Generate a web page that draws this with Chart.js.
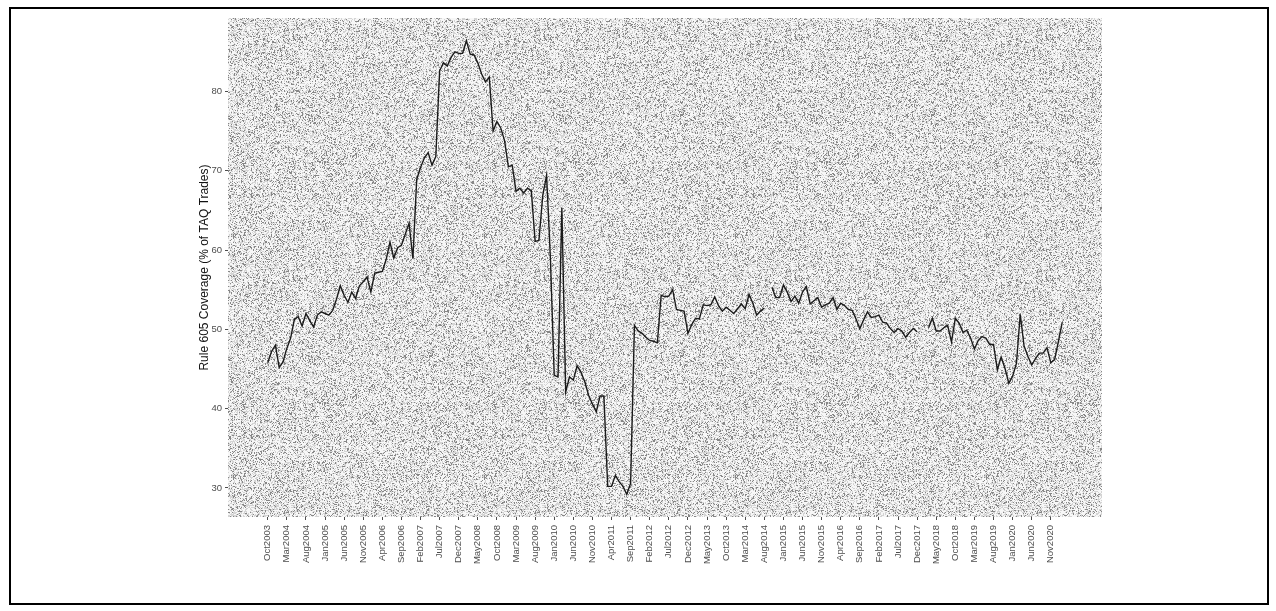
<!DOCTYPE html>
<html>
<head>
<meta charset="utf-8">
<script src="https://cdn.jsdelivr.net/npm/chart.js@4"></script>
<style>
    body { margin: 0; background: #fff; }
    #frame {
        position: absolute; left: 9px; top: 7px; width: 1260px; height: 598px;
        border: 2px solid #000; box-sizing: border-box;
    }
    #chart { position: absolute; left: 0; top: 0; }
</style>
</head>
<body>
<div id="frame"></div>
<canvas id="chart" width="1276" height="611"></canvas>
<script>
// tick labels shown on the x axis (one every 5 months, starting Oct2003)
const tickLabels = ['Oct2003','Mar2004','Aug2004','Jan2005','Jun2005','Nov2005','Apr2006','Sep2006',
    'Feb2007','Jul2007','Dec2007','May2008','Oct2008','Mar2009','Aug2009','Jan2010','Jun2010',
    'Nov2010','Apr2011','Sep2011','Feb2012','Jul2012','Dec2012','May2013','Oct2013','Mar2014',
    'Aug2014','Jan2015','Jun2015','Nov2015','Apr2016','Sep2016','Feb2017','Jul2017','Dec2017',
    'May2018','Oct2018','Mar2019','Aug2019','Jan2020','Jun2020','Nov2020'];

// y axis ticks
const yTicks = [30, 40, 50, 60, 70, 80];

// monthly coverage, first value = Oct2003 (null = missing month)
const coverage = [
    45.8, 47.2, 48.0, 45.2, 45.9, 47.6, 48.9, 51.3, 51.6, 50.4, 52.0, 51.1,
    50.3, 51.8, 52.2, 52.0, 51.8, 52.4, 53.8, 55.5, 54.3, 53.4, 54.7, 53.9,
    55.5, 56.0, 56.6, 54.7, 57.1, 57.2, 57.3, 58.8, 61.0, 59.0, 60.3, 60.6,
    62.0, 63.4, 58.9, 68.9, 70.4, 71.6, 72.3, 70.7, 71.8, 82.6, 83.6, 83.2,
    84.3, 85.0, 84.8, 84.8, 86.4, 84.7, 84.6, 83.6, 82.2, 81.2, 81.8, 75.0,
    76.2, 75.4, 73.8, 70.5, 70.7, 67.4, 67.8, 67.2, 67.8, 67.5, 61.1, 61.2,
    66.9, 69.4, 59.0, 44.2, 44.0, 65.3, 42.1, 44.0, 43.6, 45.4, 44.6, 43.4,
    41.7, 40.6, 39.6, 41.6, 41.6, 30.2, 30.2, 31.6, 30.8, 30.2, 29.2, 30.6,
    50.5, 49.8, 49.5, 49.0, 48.6, 48.5, 48.3, 54.3, 54.1, 54.2, 55.0, 52.5,
    52.4, 52.3, 49.5, 50.6, 51.4, 51.3, 53.1, 53.0, 53.1, 54.1, 53.0, 52.3,
    52.8, 52.4, 52.0, 52.6, 53.2, 52.6, 54.4, 53.3, 51.8, 52.3, 52.7, null,
    55.3, 54.0, 54.0, 55.6, 54.7, 53.5, 54.2, 53.3, 54.7, 55.4, 53.2, 53.6,
    54.0, 52.8, 53.1, 53.3, 54.0, 52.5, 53.3, 53.0, 52.5, 52.4, 51.3, 50.1,
    51.2, 52.2, 51.5, 51.6, 51.8, 50.9, 50.8, 50.1, 49.6, 50.1, 49.8, 49.0,
    49.6, 50.1, 49.7, null, null, 50.2, 51.4, 49.8, 49.8, 50.2, 50.5, 48.4,
    51.4, 50.8, 49.6, 49.9, 48.9, 47.5, 48.6, 49.1, 48.9, 48.1, 48.1, 44.9,
    46.5, 45.1, 43.2, 44.1, 45.7, 51.9, 47.9, 46.6, 45.5, 46.3, 47.0, 47.0,
    47.7, 45.8, 46.2, 48.5, 50.9
];

const points = coverage.map((v, i) => ({ x: i, y: v }));

// ggplot style 5% expansion of the data range
const vals = coverage.filter(v => v !== null);
const yLo = Math.min(...vals), yHi = Math.max(...vals);
const yPad = (yHi - yLo) * 0.05;
const xPad = (coverage.length - 1) * 0.05;

// grainy light grey panel like the scanned original (fixed hash, not data)
function makeGrain() {
    const W = 251, H = 241;
    const c = document.createElement('canvas');
    c.width = W; c.height = H;
    const g = c.getContext('2d');
    const img = g.createImageData(W, H);
    for (let y = 0; y < H; y++) {
        for (let x = 0; x < W; x++) {
            let n = Math.imul(x + 17, 374761393) + Math.imul(y + 91, 668265263);
            n = Math.imul(n ^ (n >>> 13), 1274126177);
            n = (n ^ (n >>> 16)) >>> 0;
            const p = n / 4294967296;
            const v = p < 0.17 ? 135 : (p < 0.5 ? 212 : 247);
            const k = (y * W + x) * 4;
            img.data[k] = img.data[k + 1] = img.data[k + 2] = v;
            img.data[k + 3] = 255;
        }
    }
    g.putImageData(img, 0, 0);
    return c;
}

const panelBg = {
    id: 'panelBg',
    beforeDraw(chart) {
        const a = chart.chartArea;
        const ctx = chart.ctx;
        ctx.save();
        ctx.fillStyle = ctx.createPattern(makeGrain(), 'repeat');
        ctx.fillRect(a.left, a.top, a.right - a.left, a.bottom - a.top);
        ctx.restore();
    }
};

const FONT = '"Liberation Sans", Arial, sans-serif';

new Chart(document.getElementById('chart').getContext('2d'), {
    type: 'line',
    data: {
        datasets: [{
            data: points,
            borderColor: '#1a1a1a',
            borderWidth: 1.4,
            pointRadius: 0,
            tension: 0,
            spanGaps: false
        }]
    },
    options: {
        responsive: false,
        animation: false,
        layout: { padding: { top: 18, right: 174, left: 197, bottom: 34 } },
        plugins: { legend: { display: false }, tooltip: { enabled: false } },
        scales: {
            x: {
                type: 'linear',
                min: -xPad,
                max: coverage.length - 1 + xPad,
                afterBuildTicks: s => { s.ticks = tickLabels.map((t, i) => ({ value: i * 5 })); },
                afterFit: s => { s.height = 60; },
                ticks: {
                    autoSkip: false, maxRotation: 90, minRotation: 90,
                    padding: 5, color: '#4d4d4d',
                    font: { family: FONT, size: 9.5 },
                    callback: v => tickLabels[v / 5]
                },
                grid: { drawOnChartArea: false, tickLength: 3, color: '#4d4d4d' },
                border: { display: false }
            },
            y: {
                min: yLo - yPad,
                max: yHi + yPad,
                afterBuildTicks: s => { s.ticks = yTicks.map(v => ({ value: v })); },
                afterFit: s => { s.width = 31; },
                ticks: { padding: 3, color: '#4d4d4d', font: { family: FONT, size: 9.5 } },
                grid: { drawOnChartArea: false, tickLength: 3, color: '#4d4d4d' },
                border: { display: false },
                title: {
                    display: true,
                    text: 'Rule 605 Coverage (% of TAQ Trades)',
                    color: '#111',
                    padding: 0,
                    font: { family: FONT, size: 12 }
                }
            }
        }
    },
    plugins: [panelBg]
});
</script>
</body>
</html>
